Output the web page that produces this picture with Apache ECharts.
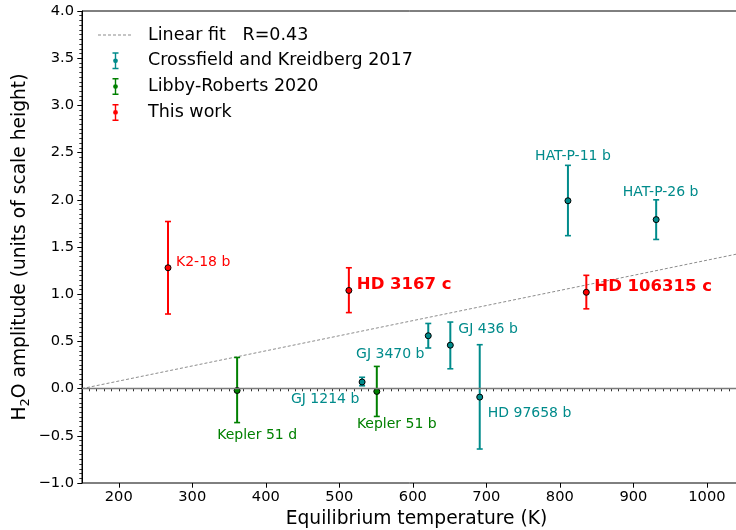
<!DOCTYPE html>
<html>
<head>
<meta charset="utf-8">
<script src="https://cdn.jsdelivr.net/npm/echarts@6/dist/echarts.min.js"></script>
<style>
html,body{margin:0;padding:0;background:#fff;}
#chart{width:736px;height:530px;}
</style>
</head>
<body>
<div id="chart"></div>
<script>
// ---- Data ----
const fitT = [150, 1060];
const fitAmp = [0.0, 1.456];
const fitName = 'Linear fit   R=0.43';

const ckName = 'Crossfield and Kreidberg 2017';
const ckPlanets = ['GJ 1214 b', 'GJ 3470 b', 'GJ 436 b', 'HD 97658 b', 'HAT-P-11 b', 'HAT-P-26 b'];
const ckTemp = [531, 621, 651, 691, 811, 931];
const ckAmp = [0.07, 0.56, 0.46, -0.09, 1.99, 1.79];
const ckErrLo = [0.04, 0.13, 0.25, 0.55, 0.37, 0.21];
const ckErrHi = [0.05, 0.13, 0.245, 0.555, 0.375, 0.21];

const lrName = 'Libby-Roberts 2020';
const lrPlanets = ['Kepler 51 d', 'Kepler 51 b'];
const lrTemp = [361, 551];
const lrAmp = [-0.02, -0.03];
const lrErrLo = [0.34, 0.265];
const lrErrHi = [0.35, 0.265];

const twName = 'This work';
const twPlanets = ['K2-18 b', 'HD 3167 c', 'HD 106315 c'];
const twTemp = [267, 513, 836];
const twAmp = [1.28, 1.04, 1.02];
const twErrLo = [0.49, 0.235, 0.175];
const twErrHi = [0.49, 0.24, 0.18];

const xTicks = [200, 300, 400, 500, 600, 700, 800, 900, 1000];

// ---- Label placement (style) ----
const labelPlace = {
  'K2-18 b':     {align: 'left',   dx: 8,   dy: -5,  bold: false},
  'HD 3167 c':   {align: 'left',   dx: 8,   dy: -6,  bold: true},
  'HD 106315 c': {align: 'left',   dx: 8,   dy: -6,  bold: true},
  'HAT-P-11 b':  {align: 'center', dx: 5,   dy: -44, bold: false},
  'HAT-P-26 b':  {align: 'center', dx: 4.5, dy: -27, bold: false},
  'GJ 3470 b':   {align: 'center', dx: -38, dy: 19,  bold: false},
  'GJ 436 b':    {align: 'left',   dx: 8,   dy: -16, bold: false},
  'GJ 1214 b':   {align: 'center', dx: -37, dy: 17,  bold: false},
  'HD 97658 b':  {align: 'left',   dx: 8,   dy: 16,  bold: false},
  'Kepler 51 d': {align: 'center', dx: 20,  dy: 45,  bold: false},
  'Kepler 51 b': {align: 'center', dx: 20,  dy: 33,  bold: false}
};

const COL_CK = '#008b8b';
const COL_LR = '#008000';
const COL_TW = '#ff0000';
const FONT = 'DejaVu Sans';

function errRenderItem(params, api) {
  const x = api.value(0), lo = api.value(1), hi = api.value(2);
  const pLo = api.coord([x, lo]);
  const pHi = api.coord([x, hi]);
  const cap = 3;
  const style = {stroke: api.visual('color'), lineWidth: 2};
  const capStyle = {stroke: api.visual('color'), lineWidth: 1.6};
  return {
    type: 'group',
    children: [
      {type: 'line', shape: {x1: pLo[0], y1: pLo[1], x2: pHi[0], y2: pHi[1]}, style: style},
      {type: 'line', shape: {x1: pLo[0] - cap, y1: pLo[1], x2: pLo[0] + cap, y2: pLo[1]}, style: capStyle},
      {type: 'line', shape: {x1: pHi[0] - cap, y1: pHi[1], x2: pHi[0] + cap, y2: pHi[1]}, style: capStyle}
    ]
  };
}

function errSeries(name, color, temps, amps, lo, hi) {
  return {
    name: name,
    type: 'custom',
    xAxisIndex: 0,
    yAxisIndex: 0,
    renderItem: errRenderItem,
    itemStyle: {color: color},
    encode: {x: 0, y: [1, 2]},
    data: temps.map((t, i) => [t, amps[i] - lo[i], amps[i] + hi[i]]),
    z: 3,
    silent: true
  };
}

function ptSeries(id, color, names, temps, amps) {
  return {
    name: id,
    type: 'scatter',
    xAxisIndex: 0,
    yAxisIndex: 0,
    symbol: 'circle',
    symbolSize: 6,
    itemStyle: {color: color, borderColor: '#000', borderWidth: 1, opacity: 1},
    z: 4,
    silent: true,
    data: names.map((n, i) => {
      const p = labelPlace[n];
      return {
        name: n,
        value: [temps[i], amps[i]],
        label: {
          show: true,
          formatter: n,
          position: 'inside',
          align: p.align,
          verticalAlign: 'middle',
          offset: [p.dx, p.dy],
          color: color,
          fontFamily: FONT,
          fontSize: p.bold ? 16.5 : 14,
          fontWeight: p.bold ? 'bold' : 'normal'
        }
      };
    })
  };
}

const ebIcon = 'path://M0,0H6V1.5H3.7V15.5H6V17H0V15.5H2.3V1.5H0Z M5.4,8.5A2.4,2.4,0,1,1,0.6,8.5A2.4,2.4,0,1,1,5.4,8.5Z';
const dashIcon = 'path://M0,0h3v1h-3z M5,0h3v1h-3z M10,0h3v1h-3z M15,0h3v1h-3z M20,0h3v1h-3z M25,0h3v1h-3z M30,0h3v1h-3z M35,0h0.01v1h-0.01z';

const chart = echarts.init(document.getElementById('chart'), null, {renderer: 'canvas'});
const option = {
  animation: false,
  backgroundColor: '#fff',
  textStyle: {fontFamily: FONT},
  grid: {left: 82, top: 11, width: 669, height: 472, show: true, borderColor: '#000', borderWidth: 1,
         backgroundColor: 'transparent', containLabel: false, outerBoundsMode: 'none'},
  legend: {
    orient: 'vertical',
    left: 93,
    top: 21,
    itemWidth: 35,
    itemHeight: 17,
    itemGap: 7.8,
    textStyle: {fontFamily: FONT, fontSize: 17.5, color: '#000', padding: [0, 0, 0, 10]},
    data: [
      {name: fitName, icon: dashIcon, itemStyle: {color: '#8c8c8c'}},
      {name: ckName, icon: ebIcon},
      {name: lrName, icon: ebIcon},
      {name: twName, icon: ebIcon}
    ],
    selectedMode: false
  },
  xAxis: [
    {
      type: 'value',
      min: 150, max: 1060, interval: 10,
      position: 'bottom',
      axisLine: {show: true, lineStyle: {color: '#000', width: 1}},
      axisTick: {show: true, length: 2.7, lineStyle: {color: '#000', width: 0.8}},
      axisLabel: {show: false},
      splitLine: {show: false},
      name: 'Equilibrium temperature (K)',
      nameLocation: 'middle',
      nameGap: 27,
      nameMoveOverlap: false,
      nameTextStyle: {fontFamily: FONT, fontSize: 18.67, color: '#000'}
    },
    {
      type: 'value',
      min: 150, max: 1060,
      position: 'bottom',
      axisLine: {show: false},
      axisTick: {show: true, length: 4.7, customValues: xTicks, lineStyle: {color: '#000', width: 1}},
      axisLabel: {show: true, customValues: xTicks, margin: 7, fontFamily: FONT, fontSize: 14.67, color: '#000',
                  formatter: v => String(v)},
      splitLine: {show: false}
    }
  ],
  yAxis: [
    {
      type: 'value',
      min: -1, max: 4, interval: 0.5,
      axisLine: {show: true, lineStyle: {color: '#000', width: 1}},
      axisTick: {show: true, length: 4.7, lineStyle: {color: '#000', width: 1}},
      minorTick: {show: true, splitNumber: 10, length: 2.7, lineStyle: {color: '#000', width: 0.8}},
      axisLabel: {
        margin: 8, fontFamily: FONT, fontSize: 14.67, color: '#000',
        formatter: v => v.toFixed(1).replace('-', '\u2212')
      },
      splitLine: {show: false},
      minorSplitLine: {show: false},
      name: 'H{sub|2}O amplitude (units of scale height)',
      nameLocation: 'middle',
      nameRotate: 90,
      nameGap: 50,
      nameMoveOverlap: false,
      nameTextStyle: {
        fontFamily: FONT, fontSize: 18.67, color: '#000', lineHeight: 24,
        rich: {sub: {fontFamily: FONT, fontSize: 13, lineHeight: 13, verticalAlign: 'bottom', color: '#000'}}
      }
    }
  ],
  series: [
    {
      name: fitName,
      type: 'line',
      xAxisIndex: 0,
      yAxisIndex: 0,
      symbol: 'none',
      silent: true,
      z: 2,
      lineStyle: {color: '#8c8c8c', width: 1, type: [3, 2]},
      itemStyle: {color: '#8c8c8c'},
      data: fitT.map((t, i) => [t, fitAmp[i]]),
      markLine: {
        silent: true,
        symbol: 'none',
        label: {show: false},
        lineStyle: {color: '#7a7a7a', width: 1.3, type: 'solid'},
        data: [{yAxis: 0}]
      }
    },
    errSeries(ckName, COL_CK, ckTemp, ckAmp, ckErrLo, ckErrHi),
    errSeries(lrName, COL_LR, lrTemp, lrAmp, lrErrLo, lrErrHi),
    errSeries(twName, COL_TW, twTemp, twAmp, twErrLo, twErrHi),
    ptSeries('ck_points', COL_CK, ckPlanets, ckTemp, ckAmp),
    ptSeries('lr_points', COL_LR, lrPlanets, lrTemp, lrAmp),
    ptSeries('tw_points', COL_TW, twPlanets, twTemp, twAmp)
  ]
};
chart.setOption(option);
</script>
</body>
</html>
